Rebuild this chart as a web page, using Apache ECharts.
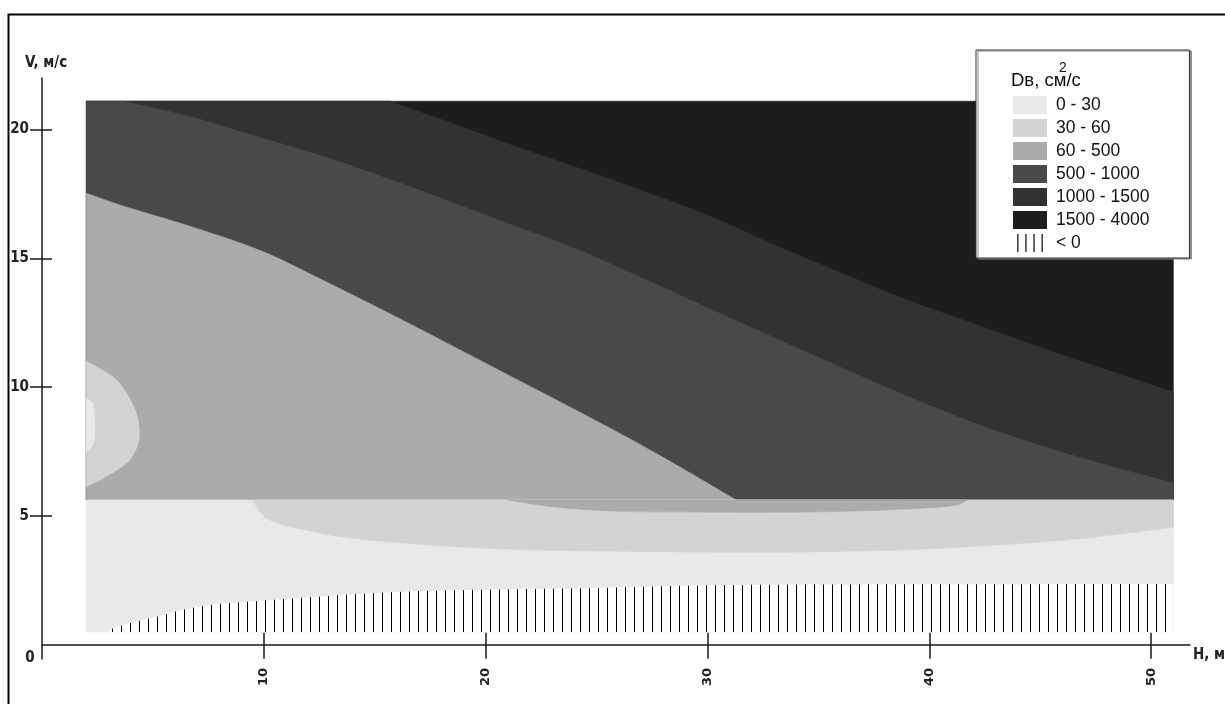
<!DOCTYPE html>
<html><head><meta charset="utf-8">
<script src="https://cdn.jsdelivr.net/npm/echarts@6/dist/echarts.min.js"></script>
<style>html,body{margin:0;padding:0;background:#fff}#c{width:1225px;height:704px}</style>
</head><body><div id="c"></div>
<script>
// ---------------- data ----------------
const categories = ['0 - 30', '30 - 60', '60 - 500', '500 - 1000', '1000 - 1500', '1500 - 4000', '< 0'];
const hRange = [2, 51];            // H extent of the computed field, m
const vTop = 21.1;                 // upper V of the field, m/s
const vSplit = 5.62;               // V where the two calculation zones meet
const vBottom = 0.5;               // lower V of the field
const xTicks = [10, 20, 30, 40, 50];
const yTicks = [5, 10, 15, 20];

// boundary 1000-1500 | 1500-4000
const edge1500 = [[15.68,21.1],[18.38,20.27],[21.22,19.38],[24.24,18.49],[27.26,17.56],[30.23,16.59],[33.25,15.43],[35.96,14.46],[38.66,13.49],[41.68,12.56],[44.65,11.65],[47.67,10.76],[51,9.81]];
// boundary 500-1000 | 1000-1500
const edge1000 = [[3.65,21.1],[6.8,20.47],[9.82,19.69],[12.84,18.91],[15.81,18.02],[18.25,17.25],[21.22,16.28],[24.24,15.31],[29.65,13.22],[34.16,11.47],[38.66,9.77],[41.68,8.72],[44.65,7.83],[47.67,7.05],[51,6.28]];
// boundary 60-500 | 500-1000
const edge500 = [[2,17.53],[3.81,16.99],[6.8,16.21],[9.82,15.31],[12.66,14.15],[16.1,12.67],[20.6,10.66],[26.6,7.95],[31.3,5.62]];
// 30-60 island at the left edge
const island60 = [[2,11.02],[3.2,10.4],[3.81,9.76],[4.26,8.98],[4.38,8.33],[4.34,7.82],[3.96,7.17],[3.36,6.78],[2.61,6.4],[2,6.14]];
// 0-30 island inside it
const island30 = [[2,9.56],[2.31,9.3],[2.38,8.46],[2.31,7.82],[2,7.49]];
// lower zone: lower boundary of the 30-60 band
const lowEdge60 = [[9.5,5.62],[9.86,5.12],[10.3,4.84],[11.2,4.57],[12.1,4.42],[13.5,4.19],[16.2,3.95],[20.7,3.72],[25.2,3.64],[29.7,3.6],[34.2,3.6],[38.7,3.68],[40.8,3.76],[43.2,3.88],[46.2,4.07],[48.6,4.3],[51,4.57]];
// lower zone: lower boundary of the thin 60-500 strip
const stripEdge500 = [[21,5.62],[23,5.36],[26,5.18],[30,5.15],[34,5.15],[37,5.2],[40,5.32],[41.2,5.42],[41.7,5.62]];
// upper boundary of the negative (< 0) zone
const negEdge = [[2.97,0.5],[3.15,0.62],[3.96,0.85],[5.18,1.09],[6.35,1.36],[7.57,1.55],[9.23,1.67],[11.62,1.82],[15.23,2.02],[18.83,2.13],[25.14,2.21],[32.35,2.33],[51,2.36]];

// ---------------- styles ----------------
const fills = ['#e9e9e9', '#d3d3d3', '#ababab', '#494949', '#323232', '#1d1d1d'];
const axisColor = '#1a1a1a';
const narrowFont = "'Liberation Sans Narrow','DejaVu Sans Condensed','Arial Narrow',sans-serif";

// hatch pattern for the negative zone
const pat = document.createElement('canvas');
pat.width = 9; pat.height = 8;
const pc = pat.getContext('2d');
pc.fillStyle = '#fff'; pc.fillRect(0, 0, 9, 8);
pc.fillStyle = '#000'; pc.fillRect(4, 0, 1, 8);
const hatch = { image: pat, repeat: 'repeat' };

// ---------------- regions (painter's order); S = smooth boundary, L = straight ----------------
const [h0, h1] = hRange;
const S = p => ({ s: true, p }), L = (...p) => ({ s: false, p });
const regions = [
  { cat: 5, parts: [L([h0, vSplit], [h0, vTop], [h1, vTop], [h1, vSplit])] },
  { cat: 4, parts: [L([h0, vSplit], [h0, vTop]), S(edge1500), L([h1, vSplit])] },
  { cat: 3, parts: [L([h0, vSplit], [h0, vTop]), S(edge1000), L([h1, vSplit])] },
  { cat: 2, parts: [L([h0, vSplit]), S(edge500)] },
  { cat: 1, parts: [S(island60)] },
  { cat: 0, parts: [S(island30)] },
  { cat: 0, parts: [L([h0, vBottom], [h0, vSplit], [h1, vSplit], [h1, vBottom])] },
  { cat: 1, parts: [S(lowEdge60), L([h1, vSplit])] },
  { cat: 2, parts: [S(stripEdge500)] },
  { cat: 6, parts: [S(negEdge), L([h1, vBottom])] }
];

function f(n) { return n.toFixed(2); }
function buildPath(parts, api) {
  let d = '', started = false;
  parts.forEach(part => {
    const q = part.p.map(p => api.coord(p));
    if (!part.s) {
      q.forEach(pt => { d += (started ? ' L' : 'M') + f(pt[0]) + ' ' + f(pt[1]); started = true; });
    } else {
      d += (started ? ' L' : 'M') + f(q[0][0]) + ' ' + f(q[0][1]); started = true;
      for (let i = 0; i < q.length - 1; i++) {
        const p0 = q[Math.max(0, i - 1)], p1 = q[i], p2 = q[i + 1], p3 = q[Math.min(q.length - 1, i + 2)];
        const c1 = [p1[0] + (p2[0] - p0[0]) / 6, p1[1] + (p2[1] - p0[1]) / 6];
        const c2 = [p2[0] - (p3[0] - p1[0]) / 6, p2[1] - (p3[1] - p1[1]) / 6];
        d += ' C' + f(c1[0]) + ' ' + f(c1[1]) + ' ' + f(c2[0]) + ' ' + f(c2[1]) + ' ' + f(p2[0]) + ' ' + f(p2[1]);
      }
    }
  });
  return d + ' Z';
}

const series = regions.map((r, i) => ({
  type: 'custom',
  name: categories[r.cat],
  coordinateSystem: 'cartesian2d',
  xAxisIndex: 0, yAxisIndex: 0,
  silent: true,
  clip: true,
  data: [[h0, vBottom]],
  renderItem: function (params, api) {
    const fill = r.cat === 6 ? hatch : fills[r.cat];
    return {
      type: 'path',
      z2: i,
      shape: { pathData: buildPath(r.parts, api) },
      style: r.cat === 6 ? { fill: fill } : { fill: fill, stroke: fill, lineWidth: 0.6 }
    };
  }
}));

const lineStyle = { color: axisColor, width: 1.5 };
const xLabel = { fontFamily: "'DejaVu Sans',sans-serif", fontWeight: 'bold', fontSize: 13, color: '#222' };
const yLabel = { fontFamily: narrowFont, fontWeight: 'bold', fontSize: 15, color: '#222' };

const option = {
  animation: false,
  backgroundColor: '#fff',
  grid: { left: 42, right: 35, top: 78, bottom: 45 },
  xAxis: [
    { type: 'value', position: 'bottom', min: 0, max: 51.75,
      axisLine: { show: true, onZero: true, onZeroAxisIndex: 0, lineStyle },
      axisTick: { show: true, customValues: xTicks, length: 14, lineStyle },
      axisLabel: Object.assign({ customValues: xTicks, rotate: 90, margin: 9 }, xLabel),
      splitLine: { show: false } },
    { type: 'value', position: 'bottom', min: 0, max: 51.75,
      axisLine: { show: false, onZero: true, onZeroAxisIndex: 0 },
      axisTick: { show: true, inside: true, customValues: xTicks, length: 12, lineStyle },
      axisLabel: { show: false }, splitLine: { show: false } }
  ],
  yAxis: [
    { type: 'value', position: 'left', min: -0.55, max: 22,
      axisLine: { show: true, onZero: false, lineStyle },
      axisTick: { show: true, customValues: yTicks, length: 12, lineStyle },
      axisLabel: Object.assign({ customValues: yTicks, margin: 13 }, yLabel),
      splitLine: { show: false } },
    { type: 'value', position: 'left', min: -0.55, max: 22,
      axisLine: { show: false, onZero: false },
      axisTick: { show: true, inside: true, customValues: yTicks, length: 10, lineStyle },
      axisLabel: { show: false }, splitLine: { show: false } }
  ],
  legend: {
    orient: 'vertical', left: 976, top: 50,
    padding: [46, 40, 6, 37],
    itemWidth: 34, itemHeight: 18, itemGap: 5,
    borderColor: '#333', borderWidth: 1, backgroundColor: '#fff',
    shadowColor: '#8a8a8a', shadowOffsetX: 2, shadowOffsetY: 1, shadowBlur: 0,
    selectedMode: false,
    textStyle: { fontFamily: "'Liberation Sans',Arial,sans-serif", fontSize: 17.5, color: '#111', lineHeight: 18, padding: [0, 0, 0, 4] },
    data: categories.map((c, i) => i < 6
      ? { name: c, icon: 'rect', itemStyle: { color: fills[i], borderWidth: 0 } }
      : { name: c, icon: 'path://M0,0h1.3v20h-1.3z M9,0h1.3v20h-1.3z M18,0h1.3v20h-1.3z M27,0h1.3v20h-1.3z', itemStyle: { color: '#000', borderWidth: 0 } })
  },
  graphic: [
    { type: 'rect', z: 100, silent: true, shape: { x: 8.5, y: 14.5, width: 1240, height: 720 },
      style: { fill: null, stroke: '#000', lineWidth: 2 } },
    { type: 'text', z: 100, silent: true, x: 25, y: 63,
      style: { text: 'V, м/с', fontFamily: narrowFont, fontWeight: 'bold', fontSize: 15, fill: '#222', verticalAlign: 'middle', align: 'left' } },
    { type: 'text', z: 100, silent: true, x: 1193, y: 655,
      style: { text: 'H, м', fontFamily: narrowFont, fontWeight: 'bold', fontSize: 15, fill: '#222', verticalAlign: 'middle', align: 'left' } },
    { type: 'text', z: 100, silent: true, x: 30, y: 658,
      style: { text: '0', fontFamily: narrowFont, fontWeight: 'bold', fontSize: 15, fill: '#222', verticalAlign: 'middle', align: 'center' } },
    { type: 'text', z: 100, silent: true, x: 1011, y: 81,
      style: { text: 'Dв, см/с', fontFamily: "'Liberation Sans',Arial,sans-serif", fontSize: 18.5, fill: '#111', verticalAlign: 'middle', align: 'left' } },
    { type: 'text', z: 100, silent: true, x: 1063, y: 68,
      style: { text: '2', fontFamily: "'Liberation Sans',Arial,sans-serif", fontSize: 14, fill: '#111', verticalAlign: 'middle', align: 'center' } }
  ],
  series: series
};

const chart = echarts.init(document.getElementById('c'), null, { renderer: 'canvas' });
chart.setOption(option);
</script>
</body></html>
